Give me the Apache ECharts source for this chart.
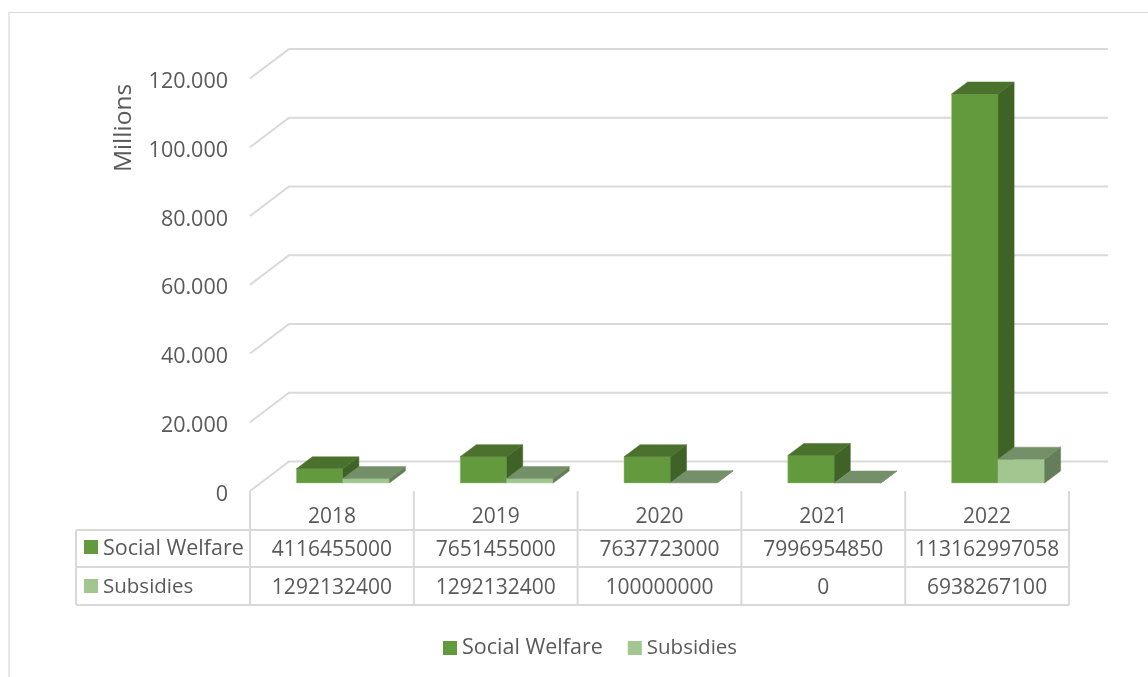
<!DOCTYPE html>
<html><head><meta charset="utf-8">
<style>html,body{margin:0;padding:0;background:#fff}#c{width:1148px;height:677px}</style>
<script src="https://cdn.jsdelivr.net/npm/echarts@6/dist/echarts.min.js"></script>
</head><body><div id="c"></div>
<script>
const years = ['2018','2019','2020','2021','2022'];
const socialWelfare = [4116455000,7651455000,7637723000,7996954850,113162997058];
const subsidies = [1292132400,1292132400,100000000,0,6938267100];
const yTicks = [0,20000000000,40000000000,60000000000,80000000000,100000000000,120000000000];
const FONT = '"Open Sans","Noto Sans",sans-serif';
const TXT = '#595959', LINE = '#d9d9d9';
const WALL_DX = 39, WALL_DY = -29.5;
const PLANE_DX = 11, PLANE_DY = -8;
const BAR_W = 46.5, BAR_DX = 16, BAR_DY = -12;
const SW = {front:'#629a3d', top:'#4b722d', side:'#3f6327', edge:'#9cc285'};
const SU = {front:'#a1c690', top:'#749068', side:'#637e58', edge:'#b9d6ab'};

function bar(cols, slot){
  return function(params, api){
    const i = api.value(0), v = api.value(1);
    const c0 = api.coord([i,0]), c1 = api.coord([i,v]);
    const x0 = c0[0] + PLANE_DX + (slot===0 ? -BAR_W : 0), x1 = x0 + BAR_W;
    const yb = c0[1] + PLANE_DY, yt = c1[1] + PLANE_DY;
    const poly = (pts, fill, stroke) => ({type:'polygon', shape:{points:pts}, style:{fill, stroke:stroke||fill, lineWidth:0.5}});
    const kids = [];
    if (yb - yt > 0.1) kids.push(poly([[x0,yt],[x1,yt],[x1,yb],[x0,yb]], cols.front, cols.edge));
    kids.push(poly([[x1,yt],[x1+BAR_DX,yt+BAR_DY],[x1+BAR_DX,yb+BAR_DY],[x1,yb]], cols.side));
    kids.push(poly([[x0,yt],[x0+BAR_DX,yt+BAR_DY],[x1+BAR_DX,yt+BAR_DY],[x1,yt]], cols.top));
    return {type:'group', children:kids};
  };
}
function wall(params, api){
  const v = api.value(0);
  const n = years.length;
  const band = api.size([1,0])[0];
  const l = api.coord([0,v]), r = api.coord([n-1,v]);
  const xl = l[0]-band/2, xr = r[0]+band/2, y = l[1];
  return {type:'polyline', shape:{points:[[xl,y],[xl+WALL_DX,y+WALL_DY],[xr+WALL_DX,y+WALL_DY]]},
    style:{fill:'none', stroke:LINE, lineWidth:2}};
}
const chart = echarts.init(document.getElementById('c'), null, {renderer:'canvas'});
chart.setOption({
  animation:false,
  backgroundColor:'#fff',
  grid:{left:250, width:819, top:78.5, height:412.5, containLabel:false},
  xAxis:{type:'category', data:years, boundaryGap:true, axisLabel:{show:false}, axisLine:{show:false}, axisTick:{show:false}, splitLine:{show:false}},
  yAxis:{type:'value', min:0, max:120000000000, interval:20000000000,
    axisLine:{show:false}, axisTick:{show:false}, splitLine:{show:false},
    axisLabel:{margin:22, color:TXT, fontFamily:FONT, fontSize:21.5, verticalAlign:'top', lineHeight:7,
      formatter:v=>{const m=v/1e6; return m===0?'0':String(m).replace(/\B(?=(\d{3})+$)/g,'.');}}},
  legend:{left:443, top:637, padding:0, icon:'rect', itemWidth:14, itemHeight:14, itemGap:25,
    data:['Social Welfare','Subsidies'], selectedMode:false,
    formatter:n=>n==='Subsidies'?'{s|'+n+'}':n,
    textStyle:{color:TXT, fontFamily:FONT, fontSize:21.5, rich:{s:{color:TXT, fontFamily:FONT, fontSize:20.5}}}},
  series:[
    {type:'custom', name:'wall', silent:true, clip:false, data:yTicks.map(v=>[v]), encode:{y:0}, renderItem:wall, z:1},
    {type:'custom', name:'Social Welfare', clip:false, itemStyle:{color:SW.front}, data:socialWelfare.map((v,i)=>[i,v]), encode:{x:0,y:1}, renderItem:bar(SW,0), z:2},
    {type:'custom', name:'Subsidies', clip:false, itemStyle:{color:SU.front}, data:subsidies.map((v,i)=>[i,v]), encode:{x:0,y:1}, renderItem:bar(SU,1), z:3}
  ]
});
const TL=76, TY0=491, TY1=530, TY2=567, TY3=605;
const g=[];
const ln=(x1,y1,x2,y2,w)=>g.push({type:'line',silent:true,shape:{x1,y1,x2,y2},style:{stroke:LINE,lineWidth:w||2}});
const tx=(text,x,y,align,extra,size)=>g.push(Object.assign({type:'text',silent:true,x,y,style:{text,fill:TXT,font:(size||21)+'px '+FONT,textAlign:align||'center',textVerticalAlign:'middle'}},extra||{}));
ln(9,12.5,1148,12.5,1.2); ln(9,12,9,677,1.2);
ln(TL,TY1,1069,TY1); ln(TL,TY2,1069,TY2); ln(TL,TY3,1069,TY3); ln(TL,TY1,TL,TY3);
const band=chart.convertToPixel({xAxisIndex:0},1)-chart.convertToPixel({xAxisIndex:0},0);
years.forEach((y,i)=>{
  const cx=chart.convertToPixel({xAxisIndex:0},i);
  ln(cx-band/2,TY0,cx-band/2,TY3);
  if(i===years.length-1) ln(cx+band/2,TY0,cx+band/2,TY3);
  tx(y,cx,517);
  tx(String(socialWelfare[i]),cx,550);
  tx(String(subsidies[i]),cx,588);
});
g.push({type:'rect',silent:true,shape:{x:84,y:540,width:14,height:14},style:{fill:SW.front}});
g.push({type:'rect',silent:true,shape:{x:84,y:579,width:14,height:14},style:{fill:SU.front}});
tx('Social Welfare',103,549,'left',null,21.5); tx('Subsidies',103,587,'left',null,20.5);
tx('Millions',124,128,'center',{rotation:Math.PI/2},24.5);
chart.setOption({graphic:g});
</script></body></html>
